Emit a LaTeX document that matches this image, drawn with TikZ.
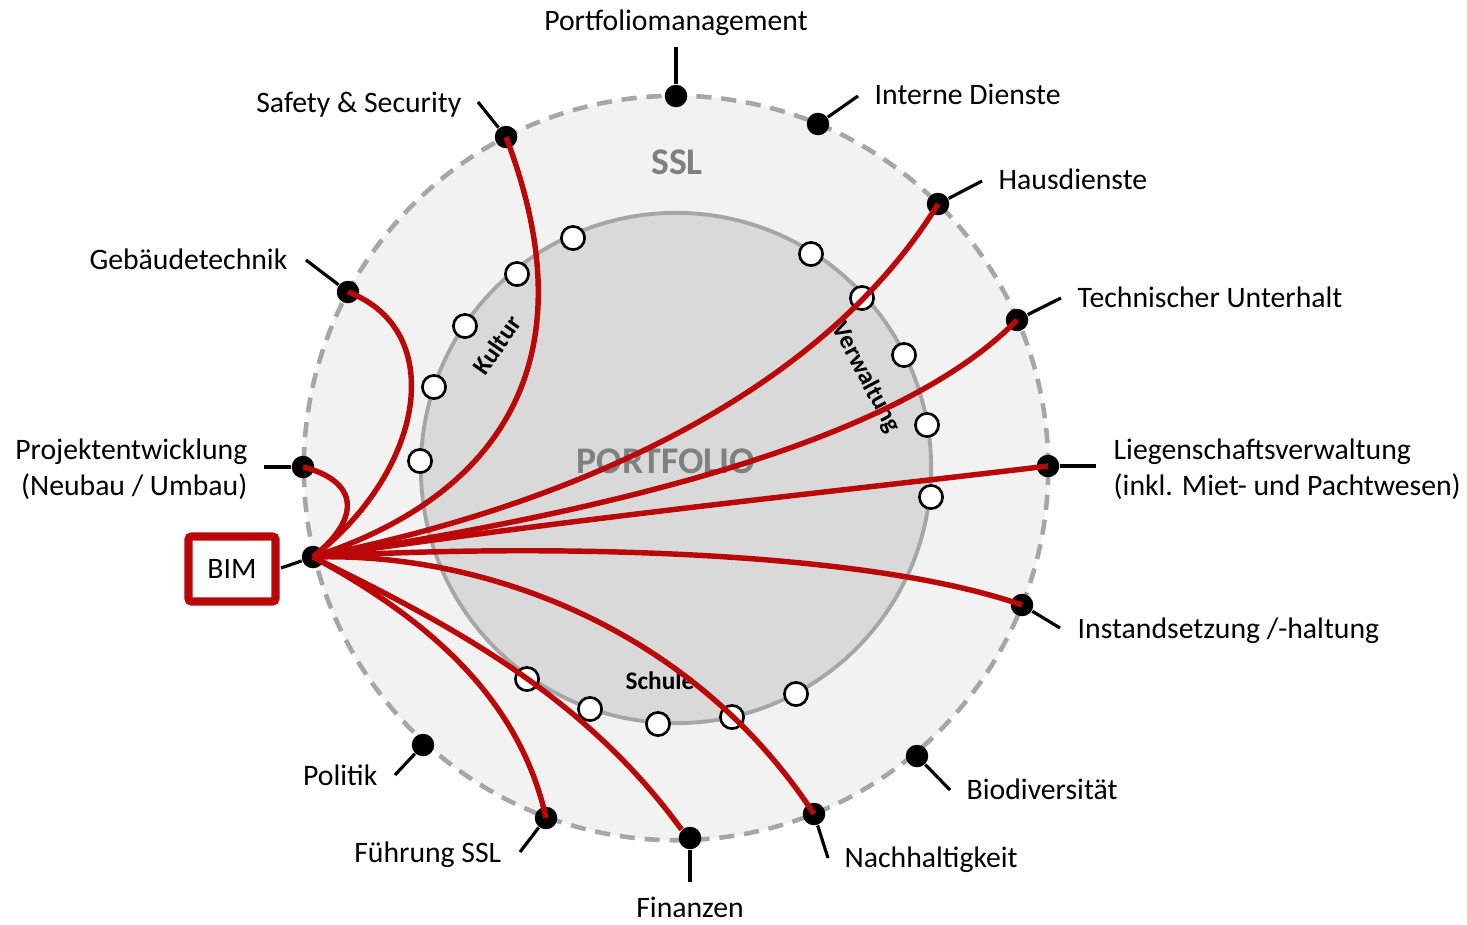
\documentclass[tikz,border=0pt]{standalone}
\usepackage{fontspec}
\setmainfont{Carlito}
\definecolor{bimred}{RGB}{186,8,8}
\definecolor{ringgray}{RGB}{166,166,166}
\definecolor{sslfill}{RGB}{242,242,242}
\definecolor{portfill}{RGB}{217,217,217}
\definecolor{headgray}{RGB}{128,128,128}

\begin{document}
\begin{tikzpicture}[x=0.01cm, y=-0.01cm,
  dot/.style={circle, fill=black, inner sep=0pt, minimum size=6.4pt},
  obj/.style={circle, draw=black, fill=white, line width=0.75pt, inner sep=0pt, minimum size=6.6pt},
  tick/.style={line width=0.9pt},
  link/.style={bimred, line width=1.55pt},
  lbl/.style={font=\fontsize{8.45}{10.2}\selectfont, inner sep=0pt},
  grp/.style={font=\fontsize{7.2}{8}\selectfont\bfseries, inner sep=0pt},
  head/.style={font=\fontsize{10.7}{12}\selectfont\bfseries, text=headgray, inner sep=0pt}]
\useasboundingbox (0,0) rectangle (1467,924);

\draw[fill=sslfill, draw=ringgray, line width=1.3pt, dash pattern=on 4.3pt off 2.8pt] (676,468) circle [radius=3.72cm];
\draw[fill=portfill, draw=ringgray, line width=1.1pt] (676,468) circle [radius=2.55cm];

\node[head] (ssl) at (677,162) {SSL};
\node[head] (port) at (666,461) {PORTFOLIO};
\node[grp, rotate=55] (kultur) at (497,345) {Kultur};
\node[grp, rotate=-62] (verw) at (866,378) {Verwaltung};
\node[grp] (schule) at (660,681) {Schule};

\node[obj] (o1) at (573,238) {};
\node[obj] (o2) at (517,274) {};
\node[obj] (o3) at (465,326) {};
\node[obj] (o4) at (434,387) {};
\node[obj] (o5) at (420,461) {};
\node[obj] (o6) at (811,254) {};
\node[obj] (o7) at (862,298) {};
\node[obj] (o8) at (904,355) {};
\node[obj] (o9) at (927,425) {};
\node[obj] (o10) at (931,497) {};
\node[obj] (o11) at (527,679) {};
\node[obj] (o12) at (590,709) {};
\node[obj] (o13) at (658,724) {};
\node[obj] (o14) at (732,717) {};
\node[obj] (o15) at (796,694) {};

\coordinate (pm-t) at (676,47);
\coordinate (id-t) at (858,96);
\coordinate (hd-t) at (982,181);
\coordinate (tu-t) at (1061,298);
\coordinate (lv-t) at (1096,466);
\coordinate (is-t) at (1060,628);
\coordinate (bd-t) at (950,790);
\coordinate (nh-t) at (828,858);
\coordinate (fi-t) at (690,882);
\coordinate (fs-t) at (520,852);
\coordinate (po-t) at (395,775);
\coordinate (bim-t) at (281,568);
\coordinate (pe-t) at (264,467);
\coordinate (gt-t) at (306,260);
\coordinate (ss-t) at (478,102);

\node[dot] (pm) at (676,96) {};
\node[dot] (id) at (818,124) {};
\node[dot] (hd) at (938,204) {};
\node[dot] (tu) at (1017,320) {};
\node[dot] (lv) at (1048,466) {};
\node[dot] (is) at (1022,605) {};
\node[dot] (bd) at (917,756) {};
\node[dot] (nh) at (814,814) {};
\node[dot] (fi) at (690,838) {};
\node[dot] (fs) at (546,818) {};
\node[dot] (po) at (423,745) {};
\node[dot] (bim) at (313,557) {};
\node[dot] (pe) at (303,467) {};
\node[dot] (gt) at (348,292) {};
\node[dot] (ss) at (506,137) {};

\draw[tick] (pm) -- (pm-t);
\draw[tick] (id) -- (id-t);
\draw[tick] (hd) -- (hd-t);
\draw[tick] (tu) -- (tu-t);
\draw[tick] (lv) -- (lv-t);
\draw[tick] (is) -- (is-t);
\draw[tick] (bd) -- (bd-t);
\draw[tick] (nh) -- (nh-t);
\draw[tick] (fi) -- (fi-t);
\draw[tick] (fs) -- (fs-t);
\draw[tick] (po) -- (po-t);
\draw[tick] (bim) -- (bim-t);
\draw[tick] (pe) -- (pe-t);
\draw[tick] (gt) -- (gt-t);
\draw[tick] (ss) -- (ss-t);

\node[lbl, anchor=base] (pm-l) at (676,30.5) {Portfoliomanagement};
\node[lbl, anchor=base west] (id-l) at (874,104) {Interne Dienste};
\node[lbl, anchor=base west] (hd-l) at (998,189) {Hausdienste};
\node[lbl, anchor=base west] (tu-l) at (1077,307) {Technischer Unterhalt};
\node[lbl, anchor=west, align=left] (lv-l) at (1113,469) {Liegenschaftsverwaltung\\(inkl. Miet- und Pachtwesen)};
\node[lbl, anchor=base west] (is-l) at (1077,638) {Instandsetzung /-haltung};
\node[lbl, anchor=base west] (bd-l) at (966,799) {Biodiversität};
\node[lbl, anchor=base west] (nh-l) at (844,867) {Nachhaltigkeit};
\node[lbl, anchor=base] (fi-l) at (690,917) {Finanzen};
\node[lbl, anchor=base east] (fs-l) at (502,862) {Führung SSL};
\node[lbl, anchor=base east] (po-l) at (378,785) {Politik};
\node[lbl, anchor=east, align=right] (pe-l) at (248,469) {Projektentwicklung\\(Neubau / Umbau)};
\node[lbl, anchor=base east] (gt-l) at (288,269) {Gebäudetechnik};
\node[lbl, anchor=base east] (ss-l) at (462,112) {Safety \& Security};
\node[lbl, draw=bimred, line width=2.4pt, rounded corners=1pt, minimum width=0.87cm, minimum height=0.65cm] (bim-l) at (232,569) {BIM};

\draw[link] (bim.center) .. controls (365,515) and (355,480) .. (pe.center);
\draw[link] (bim.center) .. controls (425,470) and (448,330) .. (gt.center);
\draw[link] (bim.center) .. controls (490,500) and (595,370) .. (ss.center);
\draw[link] (bim.center) .. controls (600,500) and (830,380) .. (hd.center);
\draw[link] (bim.center) .. controls (620,510) and (900,440) .. (tu.center);
\draw[link] (bim.center) .. controls (600,515) and (850,490) .. (lv.center);
\draw[link] (bim.center) .. controls (500,545) and (850,545) .. (is.center);
\draw[link] (bim.center) .. controls (480,552) and (690,625) .. (nh.center);
\draw[link] (bim.center) .. controls (440,620) and (580,690) .. (fi.north west);
\draw[link] (bim.center) .. controls (430,620) and (520,700) .. (fs.center);

\end{tikzpicture}
\end{document}
